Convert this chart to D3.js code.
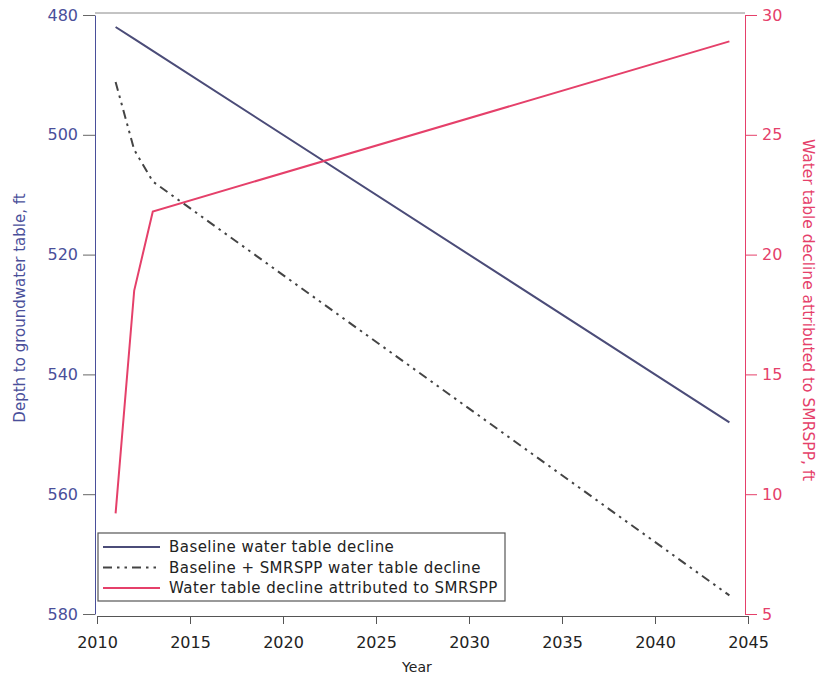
<!DOCTYPE html>
<html>
<head>
<meta charset="utf-8">
<script src="https://cdn.jsdelivr.net/npm/d3@7"></script>
<style>
  body { margin: 0; background: #fff; }
  svg text { font-family: "DejaVu Sans", sans-serif; }
</style>
</head>
<body>
<svg id="chart"></svg>
<script>
// Data
const years = [2011, 2012, 2013, 2044];
const baseline = [482, 484, 486, 548];          // depth, ft (left axis)
const withSmrspp = [491.2, 502.5, 507.8, 576.9]; // depth, ft (left axis)
const attributed = [9.2, 18.5, 21.8, 28.9];     // decline, ft (right axis)
const xTicks = [2010, 2015, 2020, 2025, 2030, 2035, 2040, 2045];
const leftTicks = [480, 500, 520, 540, 560, 580];
const rightTicks = [5, 10, 15, 20, 25, 30];
const legendLabels = [
    "Baseline water table decline",
    "Baseline + SMRSPP water table decline",
    "Water table decline attributed to SMRSPP"
];

const svgWidth = 817, svgHeight = 677;
const margin = { top: 15, right: 69, bottom: 63, left: 97 };
const width = svgWidth - margin.left - margin.right;
const height = svgHeight - margin.top - margin.bottom;

const blue = "#4a4f9a";
const lineBlue = "#4b4c78";
const pink = "#e5406a";
const grey = "#444";
const dashDot = "9,5,2.5,5,2.5,5";

const svg = d3.select("#chart")
    .attr("width", svgWidth)
    .attr("height", svgHeight)
    .append("g")
    .attr("transform", `translate(${margin.left},${margin.top})`);

const x = d3.scaleLinear().domain([2010, 2045]).range([0, width]);
const yL = d3.scaleLinear().domain([480, 580]).range([0, height]);
const yR = d3.scaleLinear().domain([5, 30]).range([height, 0]);

// frame (top)
svg.append("line")
    .attr("x1", -2).attr("x2", width - 3)
    .attr("y1", -2).attr("y2", -2)
    .attr("stroke", "#888").attr("stroke-width", 1);

// Bottom axis
const xAxis = svg.append("g")
    .attr("transform", `translate(0,${height + 2})`)
    .call(d3.axisBottom(x).tickValues(xTicks).tickFormat(d3.format("d")).tickSize(8).tickSizeOuter(0));
xAxis.select(".domain").attr("stroke", "#555");
xAxis.selectAll(".tick line").attr("stroke", "#555");
xAxis.selectAll("text").attr("font-size", 16).attr("fill", "#222").attr("y", 21);

// Left axis
const lAxis = svg.append("g")
    .attr("transform", "translate(-2,0)")
    .call(d3.axisLeft(yL).tickValues(leftTicks).tickSize(12).tickSizeOuter(0));
lAxis.select(".domain").attr("stroke", blue);
lAxis.selectAll(".tick line").attr("stroke", "#666");
lAxis.selectAll("text").attr("font-size", 16).attr("fill", blue).attr("x", -17);

// Right axis
const rAxis = svg.append("g")
    .attr("transform", `translate(${width - 3},0)`)
    .call(d3.axisRight(yR).tickValues(rightTicks).tickSize(12).tickSizeOuter(0));
rAxis.select(".domain").attr("stroke", pink);
rAxis.selectAll(".tick line").attr("stroke", pink);
rAxis.selectAll("text").attr("font-size", 16).attr("fill", pink).attr("x", 17);

// Axis titles
svg.append("text")
    .attr("text-anchor", "middle")
    .attr("transform", `translate(${20 - margin.left + 5},${308 - margin.top}) rotate(-90)`)
    .attr("font-size", 15)
    .attr("fill", blue)
    .text("Depth to groundwater table, ft");

svg.append("text")
    .attr("text-anchor", "middle")
    .attr("transform", `translate(${width + 55},${310 - margin.top}) rotate(90)`)
    .attr("font-size", 15.5)
    .attr("fill", pink)
    .text("Water table decline attributed to SMRSPP, ft");

svg.append("text")
    .attr("text-anchor", "middle")
    .attr("x", x(2027.2))
    .attr("y", height + 58)
    .attr("font-size", 14)
    .attr("fill", "#222")
    .text("Year");

// Lines
const lineL = d3.line().x((d, i) => x(years[i])).y(d => yL(d));
const lineR = d3.line().x((d, i) => x(years[i])).y(d => yR(d));

svg.append("path")
    .attr("d", lineL(baseline))
    .attr("fill", "none")
    .attr("stroke", lineBlue)
    .attr("stroke-width", 2);

svg.append("path")
    .attr("d", lineL(withSmrspp))
    .attr("fill", "none")
    .attr("stroke", grey)
    .attr("stroke-width", 2)
    .attr("stroke-dasharray", dashDot);

svg.append("path")
    .attr("d", lineR(attributed))
    .attr("fill", "none")
    .attr("stroke", pink)
    .attr("stroke-width", 2);

// Legend
const legend = svg.append("g").attr("transform", "translate(1,518)");
legend.append("rect")
    .attr("x", 0).attr("y", 0)
    .attr("width", 407).attr("height", 68)
    .attr("fill", "#fff")
    .attr("stroke", "#555")
    .attr("stroke-width", 1.2);

const styles = [
    { color: lineBlue, dash: null },
    { color: grey, dash: dashDot },
    { color: pink, dash: null }
];
legendLabels.forEach((label, i) => {
    const yy = 14 + i * 20.5;
    legend.append("line")
        .attr("x1", 5).attr("x2", 62)
        .attr("y1", yy).attr("y2", yy)
        .attr("stroke", styles[i].color)
        .attr("stroke-width", 2)
        .attr("stroke-dasharray", styles[i].dash);
    legend.append("text")
        .attr("x", 71).attr("y", yy + 5)
        .attr("font-size", 15)
        .attr("letter-spacing", 0.45)
        .attr("fill", "#222")
        .text(label);
});
</script>
</body>
</html>
